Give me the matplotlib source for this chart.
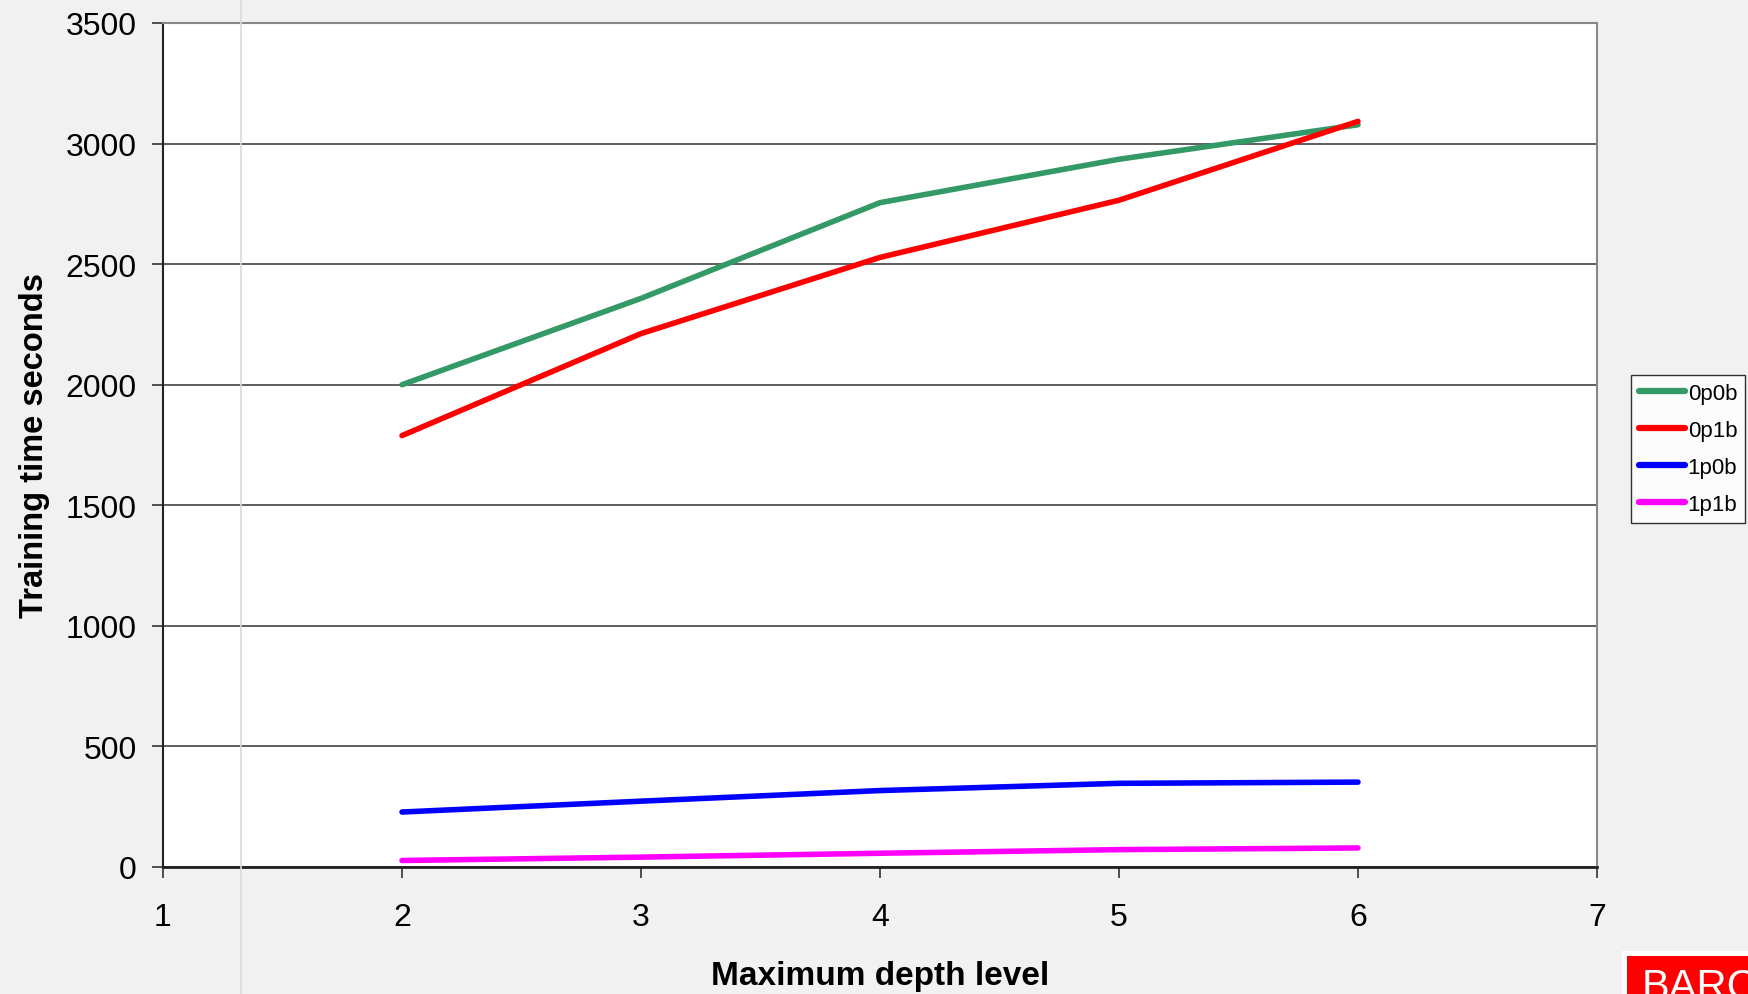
import matplotlib
matplotlib.use("Agg")
import matplotlib.pyplot as plt
from matplotlib.patches import Rectangle

plt.rcParams['font.family'] = ['Liberation Sans', 'DejaVu Sans']

# depth levels and training times (seconds)
depth = [2, 3, 4, 5, 6]
t_0p0b = [2000, 2358, 2755, 2935, 3078]
t_0p1b = [1789, 2212, 2528, 2765, 3092]
t_1p0b = [228, 273, 317, 347, 352]
t_1p1b = [27, 41, 57, 72, 79]

series = [
    ("0p0b", t_0p0b, "#339966"),
    ("0p1b", t_0p1b, "#ff0000"),
    ("1p0b", t_1p0b, "#0000ff"),
    ("1p1b", t_1p1b, "#ff00ff"),
]

W, H = 1749, 995
fig = plt.figure(figsize=(W / 100, H / 100), dpi=100, facecolor="#f1f1f1")

# faint page fold on the left
fig.add_artist(plt.Line2D([241 / W, 241 / W], [0, 1], color="#d9d9d9", lw=1.2,
                          transform=fig.transFigure))

ax = fig.add_axes([163 / W, 1 - 868 / H, (1597 - 163) / W, (868 - 24) / H])
ax.set_facecolor("white")

for name, vals, col in series:
    ax.plot(depth, vals, color=col, lw=4, label=name, solid_capstyle="round")

ax.set_xlim(1, 7)
ax.set_ylim(0, 3500)
ax.set_xticks(range(1, 8))
ax.set_yticks(range(0, 3501, 500))
ax.yaxis.grid(True, color="#333333", lw=1.1)
ax.set_axisbelow(True)
for s in ax.spines.values():
    s.set_color("#888888")
    s.set_linewidth(1.5)
ax.spines["left"].set_color("#222222")
ax.spines["bottom"].set_color("#222222")
ax.spines["bottom"].set_linewidth(2)
ax.tick_params(axis="both", direction="out", length=8, width=1.2, color="#333333",
               labelsize=23)
ax.tick_params(axis="y", pad=11)
ax.tick_params(axis="x", pad=17)

ax.set_xlabel("Maximum depth level", fontsize=24, fontweight="bold")
ax.set_ylabel("Training time seconds", fontsize=23.5, fontweight="bold")
ax.xaxis.set_label_coords(0.5, -(961 - 868) / 844)
ax.yaxis.set_label_coords(-(163 - 50) / 1434, 0.5)

leg = fig.legend(loc="upper left", bbox_to_anchor=(1631 / W, 1 - 376 / H),
                 fontsize=16, frameon=True, fancybox=False, handlelength=2.1,
                 handletextpad=0.1, borderpad=0.35, borderaxespad=0,
                 labelspacing=0.72)
leg.get_frame().set_edgecolor("black")
leg.get_frame().set_linewidth(1.0)
leg.get_frame().set_facecolor("white")
for line in leg.get_lines():
    line.set_linewidth(4.5)

# company logo in the corner
fig.add_artist(Rectangle((1622 / W, 0), (W - 1622) / W, (H - 952) / H,
                         transform=fig.transFigure, facecolor="white", edgecolor="none"))
fig.add_artist(Rectangle((1627 / W, 0), (W - 1627) / W, (H - 957) / H,
                         transform=fig.transFigure, facecolor="#ff0000", edgecolor="none"))
fig.text(1642 / W, 1 - 968 / H, "BARCO", color="white", fontsize=30,
         va="top", ha="left")

fig.savefig("out.png", dpi=100, facecolor=fig.get_facecolor())
